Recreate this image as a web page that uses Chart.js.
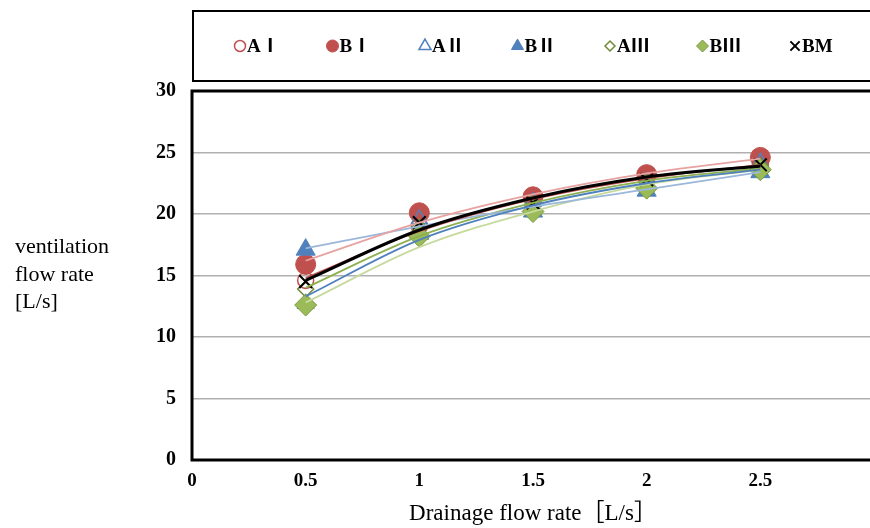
<!DOCTYPE html>
<html><head><meta charset="utf-8">
<script src="https://cdn.jsdelivr.net/npm/chart.js@4.4.0/dist/chart.umd.min.js"></script>
<style>
html,body{margin:0;padding:0;background:#fff;overflow:hidden;width:870px;height:528px;}
#wrap{position:absolute;left:0;top:0;width:890px;height:528px;}
</style></head><body>
<div id="wrap"><canvas id="c" width="890" height="528"></canvas></div>
<script>
// ---- data ----
const xValues = [0.5, 1, 1.5, 2, 2.5];
const seriesNames = ['AⅠ', 'BⅠ', 'AⅡ', 'BⅡ', 'AⅢ', 'BⅢ', 'BM'];
const AI   = [14.6, 19.0, 21.3, 22.9, 24.1];
const BI   = [15.9, 20.1, 21.4, 23.2, 24.6];
const AII  = [12.7, 19.6, 21.0, 22.6, 24.2];
const BII  = [17.1, 18.4, 20.2, 21.9, 23.4];
const AIII = [13.9, 18.9, 20.9, 22.6, 23.9];
const BIII = [12.6, 18.2, 20.2, 22.1, 23.6];
const BM   = [14.5, 19.3, 20.9, 22.8, 24.0];
// fitted trend curves
const trendAI   = [14.8, 18.6, 21.2, 22.9, 24.0];
const trendBI   = [16.2, 19.3, 21.6, 23.3, 24.5];
const trendAII  = [13.3, 17.9, 20.7, 22.5, 23.6];
const trendBII  = [17.2, 19.0, 20.6, 22.0, 23.4];
const trendAIII = [14.0, 18.2, 20.9, 22.7, 23.7];
const trendBIII = [12.8, 17.3, 20.2, 22.4, 23.6];
const trendBM   = [14.6, 18.7, 21.3, 23.0, 23.9];
const xTickLabels = ['0', '0.5', '1', '1.5', '2', '2.5', '3'];
const yTickLabels = ['0', '5', '10', '15', '20', '25', '30'];
const xTitle = 'Drainage flow rate［L/s］';
const yTitleLines = ['ventilation', 'flow rate', '[L/s]'];

// ---- styles ----
const RED = '#c0504d', BLUE = '#4f81bd', GREEN = '#9bbb59', OLIVE = '#6f8a36';
const pts = v => xValues.map((x, i) => ({x, y: v[i]}));

const markerDefs = [
  {data: AI,   pointStyle: 'circle',  radius: 8,  bg: 'rgba(255,255,255,0)', border: RED,   bw: 1.5, lr: 5.5},
  {data: BI,   pointStyle: 'circle',  radius: 10, bg: RED,   border: RED,   bw: 1, lr: 6},
  {data: AII,  pointStyle: 'triangle',radius: 9,  bg: 'rgba(255,255,255,0)', border: BLUE,  bw: 1.5, lr: 7},
  {data: BII,  pointStyle: 'triangle',radius: 11, bg: BLUE,  border: BLUE,  bw: 1, lr: 7},
  {data: AIII, pointStyle: 'rectRot', radius: 8,  bg: 'rgba(255,255,255,0)', border: OLIVE, bw: 1.5, lr: 5},
  {data: BIII, pointStyle: 'rectRot', radius: 11, bg: GREEN, border: '#7a9a45', bw: 1, lr: 6},
  {data: BM,   pointStyle: 'crossRot',radius: 9,  bg: '#000', border: '#000', bw: 2, lr: 6.5}
];
const trendDefs = [
  {data: trendBM,   color: '#000000', w: 3,   order: 0},
  {data: trendAI,   color: '#c0504d', w: 1.8, order: 1},
  {data: trendBI,   color: '#e6a3a1', w: 1.8, order: 1},
  {data: trendAII,  color: '#4f81bd', w: 1.8, order: 1},
  {data: trendBII,  color: '#9bb7da', w: 1.8, order: 1},
  {data: trendAIII, color: '#8db150', w: 1.8, order: 1},
  {data: trendBIII, color: '#c6da9e', w: 1.8, order: 1}
];

const datasets = [];
trendDefs.forEach(t => datasets.push({
  type: 'line', data: pts(t.data), borderColor: t.color, borderWidth: t.w,
  pointRadius: 0, pointHoverRadius: 0, tension: 0.4, cubicInterpolationMode: 'monotone',
  fill: false, order: t.order
}));
markerDefs.forEach((m, i) => datasets.push({
  type: 'line', label: seriesNames[i], data: pts(m.data), showLine: false,
  pointStyle: m.pointStyle, pointRadius: m.radius, pointHoverRadius: m.radius,
  pointBackgroundColor: m.bg, pointBorderColor: m.border, pointBorderWidth: m.bw,
  borderColor: m.border, backgroundColor: m.bg, order: 20 - i
}));

const SERIF = "'Liberation Serif','Noto Sans CJK JP','Times New Roman',serif";

const decor = {
  id: 'decor',
  beforeDraw(chart) {
    const ctx = chart.ctx;
    ctx.save();
    ctx.fillStyle = '#fff';
    ctx.fillRect(0, 0, chart.width, chart.height);
    ctx.restore();
  },
  beforeDatasetsDraw(chart) {
    const ctx = chart.ctx, a = chart.chartArea;
    ctx.save();
    ctx.strokeStyle = '#000';
    ctx.lineWidth = 3;
    ctx.strokeRect(a.left, a.top, a.right - a.left, a.bottom - a.top);
    ctx.restore();
  },
  afterDraw(chart) {
    const ctx = chart.ctx, a = chart.chartArea;
    ctx.save();
    // legend box
    ctx.strokeStyle = '#000';
    ctx.lineWidth = 2;
    ctx.strokeRect(a.left + 1, 11, chart.width, 70);
    const startX = a.left + 48, step = 92.5, cy = 46;
    markerDefs.forEach((m, i) => {
      const x = startX + i * step;
      ctx.fillStyle = m.bg;
      ctx.strokeStyle = m.border;
      ctx.lineWidth = m.bw;
      Chart.helpers.drawPoint(ctx, {pointStyle: m.pointStyle, radius: m.lr, borderWidth: m.bw, rotation: 0}, x, cy);
      ctx.fillStyle = '#000';
      ctx.font = "bold 19px " + SERIF;
      ctx.textAlign = 'left';
      ctx.textBaseline = 'middle';
      ctx.fillText(seriesNames[i], x + 7, cy + 1);
    });
    // y title
    ctx.fillStyle = '#000';
    ctx.font = "22px " + SERIF;
    ctx.textAlign = 'left';
    ctx.textBaseline = 'middle';
    const ys = [247, 275, 302];
    yTitleLines.forEach((t, i) => ctx.fillText(t, 15, ys[i]));
    ctx.restore();
  }
};

new Chart(document.getElementById('c'), {
  type: 'line',
  data: {datasets},
  options: {
    responsive: false,
    animation: false,
    devicePixelRatio: 1,
    layout: {padding: {top: 91, left: 0, right: 16, bottom: 0}},
    plugins: {legend: {display: false}, tooltip: {enabled: false}},
    scales: {
      x: {
        type: 'linear', min: 0, max: 3,
        afterFit: s => { s.height = 68; },
        ticks: {stepSize: 0.5, padding: 10, color: '#000',
          font: {family: SERIF, size: 19, weight: 'bold'},
          callback: (v, i) => xTickLabels[i]},
        grid: {display: false, drawTicks: false},
        border: {display: false},
        title: {display: true, text: xTitle, color: '#000',
          font: {family: SERIF, size: 23}, padding: {top: 4, bottom: 0}}
      },
      y: {
        min: 0, max: 30,
        afterFit: s => { s.width = 192; },
        ticks: {stepSize: 5, padding: 16, color: '#000',
          font: {family: SERIF, size: 20, weight: 'bold'},
          callback: (v, i) => yTickLabels[i]},
        grid: {color: '#b0b0b0', lineWidth: 1.5, drawTicks: false},
        border: {display: false}
      }
    }
  },
  plugins: [decor]
});
</script>
</body></html>
